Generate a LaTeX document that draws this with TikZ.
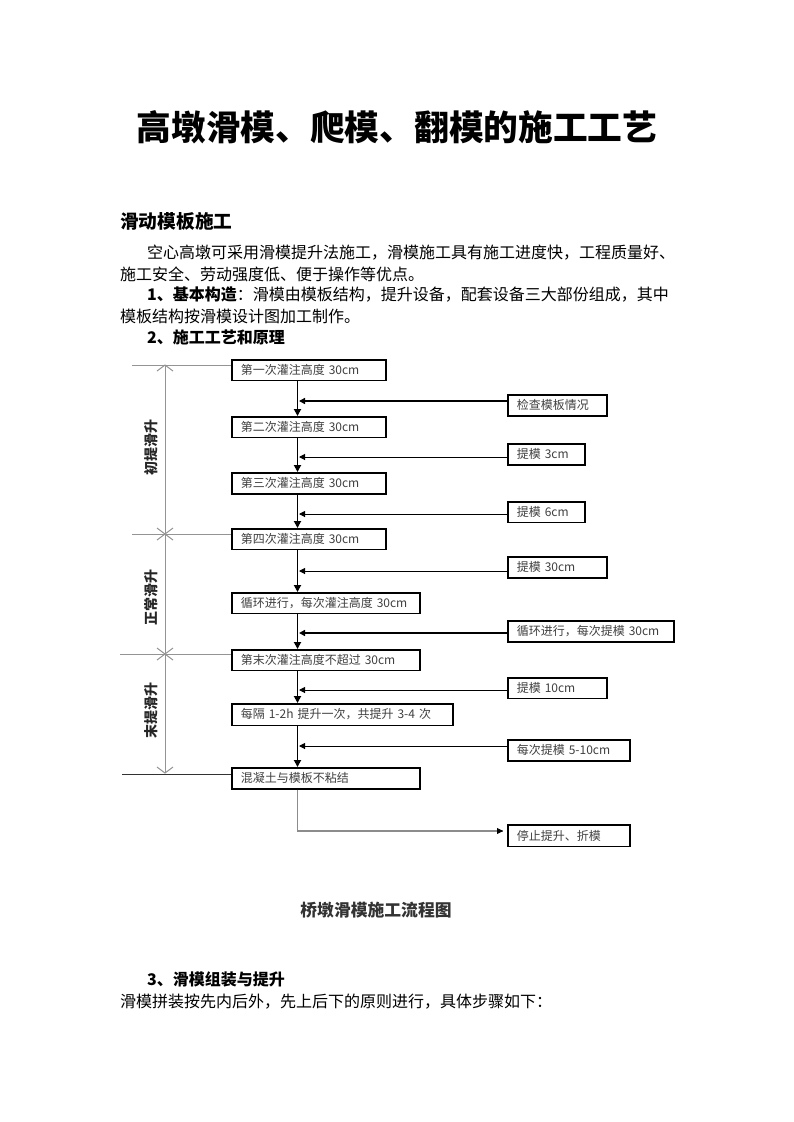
\documentclass[tikz,border=0pt]{standalone}
\usepackage{fontspec}
\setmainfont{Noto Sans CJK SC}
\usetikzlibrary{arrows.meta,calc}
\begin{document}
\begin{tikzpicture}[x=1pt,y=-1pt,
  txt/.style={anchor=west,inner sep=0pt,font=\fontsize{16}{16}\selectfont},
  box/.style={draw,line width=1.6pt,anchor=north west,inner xsep=9pt,inner ysep=0pt,
    minimum height=#1,align=left,text=black!75,font=\fontsize{12}{12}\selectfont},
  flow/.style={line width=1.9pt,-{Triangle[length=7pt,width=7pt]}},
  feed/.style={line width=1pt,-{Triangle[length=6pt,width=6pt]}},
  feedthick/.style={line width=2pt,-{Triangle[length=6pt,width=6pt]}},
  dim/.style={draw=black!42,line width=1pt},
  vlab/.style={rotate=90,inner sep=0pt,font=\bfseries\fontsize{14}{14}\selectfont,text=black!85}
]
\useasboundingbox[fill=white] (0,0) rectangle (793,1122);

% title and text
\node[inner sep=0pt,font=\bfseries\fontsize{34.7}{35}\selectfont] (title) at (397,127) {高墩滑模、爬模、翻模的施工工艺};
\node[txt,font=\bfseries\fontsize{18.7}{19}\selectfont] (h1) at (120,221) {滑动模板施工};
\node[txt] (l1) at (147,253) {空心高墩可采用滑模提升法施工，滑模施工具有施工进度快，工程质量好、};
\node[txt] (l2) at (120,274) {施工安全、劳动强度低、便于操作等优点。};
\node[txt] (l3) at (147,295) {\textbf{1、基本构造}：滑模由模板结构，提升设备，配套设备三大部份组成，其中};
\node[txt] (l4) at (120,316) {模板结构按滑模设计图加工制作。};
\node[txt] (l5) at (147,337) {\textbf{2、施工工艺和原理}};

% main column boxes
\node[box=20.5pt,text width=136pt] (b1) at (231,359) {第一次灌注高度 30cm};
\node[box=20.5pt,text width=136pt] (b2) at (231,416) {第二次灌注高度 30cm};
\node[box=21pt,text width=136pt] (b3) at (231,472) {第三次灌注高度 30cm};
\node[box=20.5pt,text width=136pt] (b4) at (231,528) {第四次灌注高度 30cm};
\node[box=20.5pt,text width=170pt] (b5) at (231,592) {循环进行，每次灌注高度 30cm};
\node[box=20.5pt,text width=170pt] (b6) at (231,649) {第末次灌注高度不超过 30cm};
\node[box=21.5pt,text width=203pt] (b7) at (231,703) {每隔 1-2h 提升一次，共提升 3-4 次};
\node[box=21pt,text width=170pt] (b8) at (231,767) {混凝土与模板不粘结};

% right boxes
\node[box=21pt,text width=81pt] (r1) at (507,394) {检查模板情况};
\node[box=21pt,text width=59pt] (r2) at (507,443) {提模 3cm};
\node[box=20.5pt,text width=59pt] (r3) at (507,501) {提模 6cm};
\node[box=21pt,text width=81pt] (r4) at (507,556) {提模 30cm};
\node[box=21pt,text width=148pt] (r5) at (507,620) {循环进行，每次提模 30cm};
\node[box=20.5pt,text width=81pt] (r6) at (507,677) {提模 10cm};
\node[box=21pt,text width=104pt] (r7) at (507,739) {每次提模 5-10cm};
\node[box=21.5pt,text width=104pt] (r8) at (507,824) {停止提升、折模};

% vertical flow
\coordinate (vx) at (297.5,0);
\draw[flow] (b1.south -| vx) -- (b2.north -| vx);
\draw[flow] (b2.south -| vx) -- (b3.north -| vx);
\draw[flow] (b3.south -| vx) -- (b4.north -| vx);
\draw[flow] (b4.south -| vx) -- (b5.north -| vx);
\draw[flow] (b5.south -| vx) -- (b6.north -| vx);
\draw[flow] (b6.south -| vx) -- (b7.north -| vx);
\draw[flow] (b7.south -| vx) -- (b8.north -| vx);

% feeds from right
\coordinate (f1) at (299,401);
\coordinate (f2) at (299,457);
\coordinate (f3) at (299,514);
\coordinate (f4) at (299,571);
\coordinate (f5) at (299,633);
\coordinate (f6) at (299,690);
\coordinate (f7) at (299,746);
\draw[feedthick] (r1.west |- f1) -- (f1);
\draw[feed] (r2.west |- f2) -- (f2);
\draw[feed] (r3.west |- f3) -- (f3);
\draw[feed] (r4.west |- f4) -- (f4);
\draw[feedthick] (r5.west |- f5) -- (f5);
\draw[feed] (r6.west |- f6) -- (f6);
\draw[feed] (r7.west |- f7) -- (f7);

% final branch
\coordinate (k) at (297.5,831);
\coordinate (kt) at (503,831);
\draw[draw=black!45,line width=1.3pt] (b8.south -| k) -- (k) -- (kt);
\draw[-{Triangle[length=6pt,width=6pt]},line width=0.8pt] ($(kt)+(-6,0)$) -- (kt);

% dimension line at left
\coordinate (d0) at (165,365);
\coordinate (d1) at (165,534);
\coordinate (d2) at (165,654);
\coordinate (d3) at (165,773);
\coordinate (e0) at (132,365);
\coordinate (e1) at (132,534);
\coordinate (e2) at (120,654);
\coordinate (e3) at (122,774);
\draw[dim] (d0) -- (d3);
\draw[dim] (e0) -- (b1.west |- e0);
\draw[dim] (e1) -- (b4.west |- e1);
\draw[dim] (e2) -- (b6.west |- e2);
\draw[draw=black!80,line width=1pt] (e3) -- (b8.west |- e3);
\draw[dim] ($(d0)+(-8,6)$) -- (d0) -- ($(d0)+(8,6)$);
\draw[dim] ($(d1)+(-8,6)$) -- ($(d1)+(8,-6)$);
\draw[dim] ($(d1)+(-8,-6)$) -- ($(d1)+(8,6)$);
\draw[dim] ($(d2)+(-8,6)$) -- ($(d2)+(8,-6)$);
\draw[dim] ($(d2)+(-8,-6)$) -- ($(d2)+(8,6)$);
\draw[dim] ($(d3)+(-8,-6)$) -- (d3) -- ($(d3)+(8,-6)$);
\node[vlab] (v1) at (151,447) {初提滑升};
\node[vlab] (v2) at (151,597) {正常滑升};
\node[vlab] (v3) at (151,710) {末提滑升};

% caption and following text
\node[inner sep=0pt,font=\bfseries\fontsize{16.8}{17}\selectfont,text=black!80] (cap) at (376,910) {桥墩滑模施工流程图};
\node[txt] (l6) at (147,979) {\textbf{3、滑模组装与提升}};
\node[txt] (l7) at (120,1002) {滑模拼装按先内后外，先上后下的原则进行，具体步骤如下：};
\end{tikzpicture}
\end{document}
